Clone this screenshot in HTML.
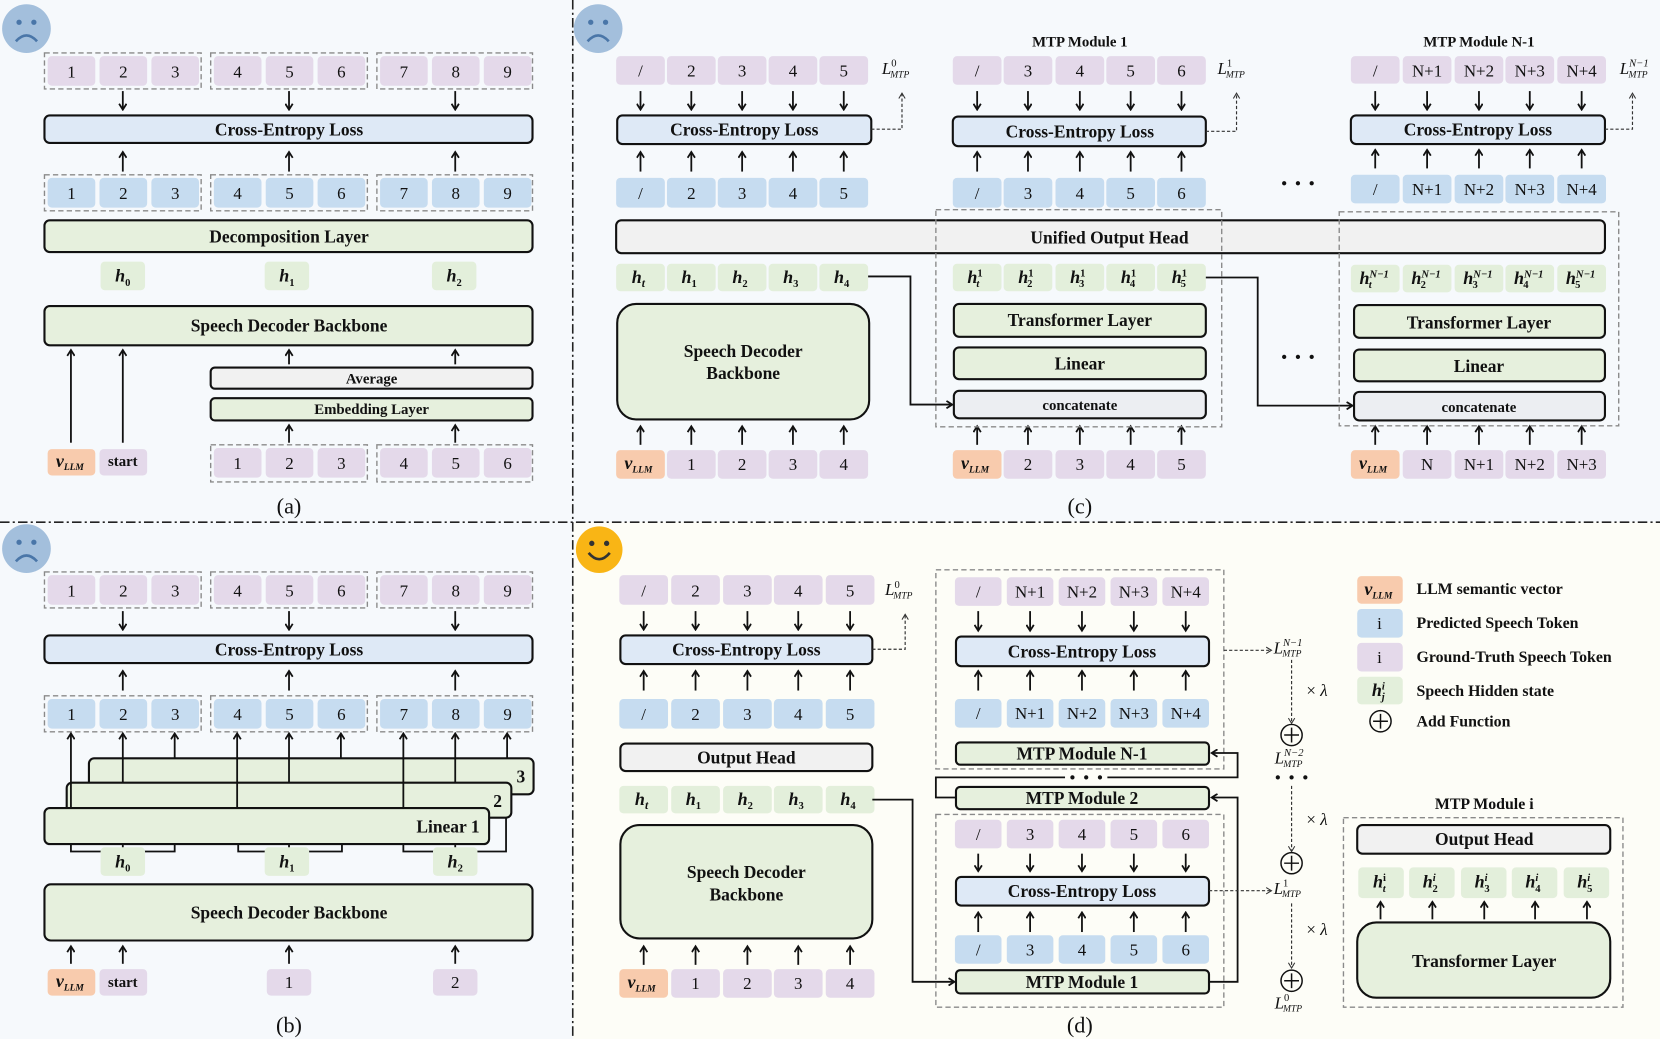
<!DOCTYPE html>
<html><head><meta charset="utf-8"><style>
html,body{margin:0;padding:0;background:#f6f9fc;}
svg{display:block}
text{font-family:"Liberation Serif",serif;font-size:16px;text-anchor:middle;fill:#111}
.b{font-weight:bold;font-size:16.5px}
.s{font-weight:bold;font-size:14px}
.lg{font-size:15px}
.st{text-anchor:start}
.en{text-anchor:end}
.h{font-weight:bold;font-style:italic;font-size:17px}
.p{fill:#e4d9ea}.u{fill:#c6dcf0}.g{fill:#e3efdb}.o{fill:#f8cbad}
.bx{stroke:#111;stroke-width:2}
.ce{fill:#dee9f6}.gr{fill:#f1f1f1}.cc{fill:#eceef2}.gb{fill:#e6f0dd}
.dg{fill:none;stroke:#8a8a8a;stroke-width:1.3;stroke-dasharray:5 3}
.a{stroke:#111;stroke-width:1.7;fill:none}
.d{stroke:#333;stroke-width:1.1;fill:none;stroke-dasharray:3 2}
</style></head><body>
<svg width="1660" height="1039" viewBox="0 0 1568 981" preserveAspectRatio="none" xmlns="http://www.w3.org/2000/svg">
<defs>
<marker id="ah" markerWidth="8" markerHeight="8" refX="6" refY="4" orient="auto" markerUnits="userSpaceOnUse"><path d="M1,0.5 L6.5,4 L1,7.5" fill="none" stroke="#111" stroke-width="1.7"/></marker>
<marker id="dh" markerWidth="8" markerHeight="8" refX="6" refY="4" orient="auto" markerUnits="userSpaceOnUse"><path d="M1,1 L6,4 L1,7" fill="none" stroke="#333" stroke-width="1"/></marker>
</defs>
<rect x="0" y="0" width="1568" height="981" fill="#f6f9fc"/>
<rect x="541" y="493" width="1027" height="488" fill="#fdfdf7"/>
<line x1="541" y1="0" x2="541" y2="981" stroke="#222" stroke-width="1.5" stroke-dasharray="9 3 2 3"/>
<line x1="0" y1="493" x2="1568" y2="493" stroke="#222" stroke-width="1.5" stroke-dasharray="9 3 2 3"/>

<!-- faces -->
<g><circle cx="25" cy="27" r="23" fill="#a3bfdc"/><circle cx="18" cy="21" r="2.5" fill="#4a76a8"/><circle cx="32" cy="21" r="2.5" fill="#4a76a8"/><path d="M15,39 Q25,28 35,39" stroke="#4a76a8" stroke-width="2.5" fill="none"/></g>
<g><circle cx="565" cy="27" r="23" fill="#a3bfdc"/><circle cx="558" cy="21" r="2.5" fill="#4a76a8"/><circle cx="572" cy="21" r="2.5" fill="#4a76a8"/><path d="M555,39 Q565,28 575,39" stroke="#4a76a8" stroke-width="2.5" fill="none"/></g>
<g><circle cx="25" cy="518" r="23" fill="#a3bfdc"/><circle cx="18" cy="512" r="2.5" fill="#4a76a8"/><circle cx="32" cy="512" r="2.5" fill="#4a76a8"/><path d="M15,530 Q25,519 35,530" stroke="#4a76a8" stroke-width="2.5" fill="none"/></g>
<g><circle cx="566" cy="519" r="22" fill="#f9b515"/><circle cx="559" cy="513" r="2.5" fill="#333"/><circle cx="573" cy="513" r="2.5" fill="#333"/><path d="M556,522 Q566,534 576,522" stroke="#333" stroke-width="2.5" fill="none"/></g>

<!-- ============ PANEL A ============ -->
<rect class="dg" x="42" y="50" width="148" height="34"/><rect class="dg" x="199" y="50" width="148" height="34"/><rect class="dg" x="356" y="50" width="147" height="34"/>
<g>
<rect class="p" x="45" y="53" width="45" height="28" rx="4"/><text x="67.5" y="73">1</text>
<rect class="p" x="94" y="53" width="45" height="28" rx="4"/><text x="116.5" y="73">2</text>
<rect class="p" x="143" y="53" width="45" height="28" rx="4"/><text x="165.5" y="73">3</text>
<rect class="p" x="202" y="53" width="45" height="28" rx="4"/><text x="224.5" y="73">4</text>
<rect class="p" x="251" y="53" width="45" height="28" rx="4"/><text x="273.5" y="73">5</text>
<rect class="p" x="300" y="53" width="45" height="28" rx="4"/><text x="322.5" y="73">6</text>
<rect class="p" x="359" y="53" width="45" height="28" rx="4"/><text x="381.5" y="73">7</text>
<rect class="p" x="408" y="53" width="45" height="28" rx="4"/><text x="430.5" y="73">8</text>
<rect class="p" x="457" y="53" width="45" height="28" rx="4"/><text x="479.5" y="73">9</text>
</g>
<line class="a" x1="116" y1="86" x2="116" y2="103" marker-end="url(#ah)"/><line class="a" x1="273" y1="86" x2="273" y2="103" marker-end="url(#ah)"/><line class="a" x1="430" y1="86" x2="430" y2="103" marker-end="url(#ah)"/>
<rect class="bx ce" x="42" y="109" width="461" height="26" rx="5"/><text class="b" x="273" y="128">Cross-Entropy Loss</text>
<line class="a" x1="116" y1="162" x2="116" y2="144" marker-end="url(#ah)"/><line class="a" x1="273" y1="162" x2="273" y2="144" marker-end="url(#ah)"/><line class="a" x1="430" y1="162" x2="430" y2="144" marker-end="url(#ah)"/>
<rect class="dg" x="42" y="165" width="148" height="34"/><rect class="dg" x="199" y="165" width="148" height="34"/><rect class="dg" x="356" y="165" width="147" height="34"/>
<g>
<rect class="u" x="45" y="168" width="45" height="28" rx="4"/><text x="67.5" y="188">1</text>
<rect class="u" x="94" y="168" width="45" height="28" rx="4"/><text x="116.5" y="188">2</text>
<rect class="u" x="143" y="168" width="45" height="28" rx="4"/><text x="165.5" y="188">3</text>
<rect class="u" x="202" y="168" width="45" height="28" rx="4"/><text x="224.5" y="188">4</text>
<rect class="u" x="251" y="168" width="45" height="28" rx="4"/><text x="273.5" y="188">5</text>
<rect class="u" x="300" y="168" width="45" height="28" rx="4"/><text x="322.5" y="188">6</text>
<rect class="u" x="359" y="168" width="45" height="28" rx="4"/><text x="381.5" y="188">7</text>
<rect class="u" x="408" y="168" width="45" height="28" rx="4"/><text x="430.5" y="188">8</text>
<rect class="u" x="457" y="168" width="45" height="28" rx="4"/><text x="479.5" y="188">9</text>
</g>
<rect class="bx gb" x="42" y="208" width="461" height="30" rx="5"/><text class="b" x="273" y="229">Decomposition Layer</text>
<rect class="g" x="95" y="247" width="42" height="27" rx="4"/><text class="h" x="116" y="266">h<tspan font-size="10" font-style="normal" dy="4">0</tspan></text>
<rect class="g" x="250" y="247" width="42" height="27" rx="4"/><text class="h" x="271" y="266">h<tspan font-size="10" font-style="normal" dy="4">1</tspan></text>
<rect class="g" x="408" y="247" width="42" height="27" rx="4"/><text class="h" x="429" y="266">h<tspan font-size="10" font-style="normal" dy="4">2</tspan></text>
<rect class="bx gb" x="42" y="289" width="461" height="37" rx="5"/><text class="b" x="273" y="313">Speech Decoder Backbone</text>
<line class="a" x1="67" y1="418" x2="67" y2="331" marker-end="url(#ah)"/><line class="a" x1="116" y1="418" x2="116" y2="331" marker-end="url(#ah)"/>
<line class="a" x1="273" y1="344" x2="273" y2="331" marker-end="url(#ah)"/><line class="a" x1="430" y1="344" x2="430" y2="331" marker-end="url(#ah)"/>
<line class="a" x1="273" y1="418" x2="273" y2="402" marker-end="url(#ah)"/><line class="a" x1="430" y1="418" x2="430" y2="402" marker-end="url(#ah)"/>
<rect class="bx gr" x="199" y="347" width="304" height="20" rx="4"/><text class="s" x="351" y="362">Average</text>
<rect class="bx gb" x="199" y="376" width="304" height="21" rx="4"/><text class="s" x="351" y="391">Embedding Layer</text>
<rect class="o" x="45" y="424" width="45" height="25" rx="4"/><text class="h" x="66" y="441">v<tspan font-size="9" dy="3">LLM</tspan></text>
<rect class="p" x="94" y="424" width="45" height="25" rx="4"/><text class="s" x="116" y="440">start</text>
<rect class="dg" x="199" y="420" width="148" height="35"/><rect class="dg" x="356" y="420" width="147" height="35"/>
<g>
<rect class="p" x="202" y="423" width="45" height="28" rx="4"/><text x="224.5" y="443">1</text>
<rect class="p" x="251" y="423" width="45" height="28" rx="4"/><text x="273.5" y="443">2</text>
<rect class="p" x="300" y="423" width="45" height="28" rx="4"/><text x="322.5" y="443">3</text>
<rect class="p" x="359" y="423" width="45" height="28" rx="4"/><text x="381.5" y="443">4</text>
<rect class="p" x="408" y="423" width="45" height="28" rx="4"/><text x="430.5" y="443">5</text>
<rect class="p" x="457" y="423" width="45" height="28" rx="4"/><text x="479.5" y="443">6</text>
</g>
<text x="273" y="485" style="font-size:21px">(a)</text>

<!-- ============ PANEL B ============ -->
<rect class="dg" x="42" y="540" width="148" height="34"/><rect class="dg" x="199" y="540" width="148" height="34"/><rect class="dg" x="356" y="540" width="147" height="34"/>
<g>
<rect class="p" x="45" y="543" width="45" height="28" rx="4"/><text x="67.5" y="563">1</text>
<rect class="p" x="94" y="543" width="45" height="28" rx="4"/><text x="116.5" y="563">2</text>
<rect class="p" x="143" y="543" width="45" height="28" rx="4"/><text x="165.5" y="563">3</text>
<rect class="p" x="202" y="543" width="45" height="28" rx="4"/><text x="224.5" y="563">4</text>
<rect class="p" x="251" y="543" width="45" height="28" rx="4"/><text x="273.5" y="563">5</text>
<rect class="p" x="300" y="543" width="45" height="28" rx="4"/><text x="322.5" y="563">6</text>
<rect class="p" x="359" y="543" width="45" height="28" rx="4"/><text x="381.5" y="563">7</text>
<rect class="p" x="408" y="543" width="45" height="28" rx="4"/><text x="430.5" y="563">8</text>
<rect class="p" x="457" y="543" width="45" height="28" rx="4"/><text x="479.5" y="563">9</text>
</g>
<line class="a" x1="116" y1="577" x2="116" y2="594" marker-end="url(#ah)"/><line class="a" x1="273" y1="577" x2="273" y2="594" marker-end="url(#ah)"/><line class="a" x1="430" y1="577" x2="430" y2="594" marker-end="url(#ah)"/>
<rect class="bx ce" x="42" y="600" width="461" height="26" rx="5"/><text class="b" x="273" y="619">Cross-Entropy Loss</text>
<line class="a" x1="116" y1="652" x2="116" y2="634" marker-end="url(#ah)"/><line class="a" x1="273" y1="652" x2="273" y2="634" marker-end="url(#ah)"/><line class="a" x1="430" y1="652" x2="430" y2="634" marker-end="url(#ah)"/>
<rect class="dg" x="42" y="657" width="148" height="34"/><rect class="dg" x="199" y="657" width="148" height="34"/><rect class="dg" x="356" y="657" width="147" height="34"/>
<g>
<rect class="u" x="45" y="660" width="45" height="28" rx="4"/><text x="67.5" y="680">1</text>
<rect class="u" x="94" y="660" width="45" height="28" rx="4"/><text x="116.5" y="680">2</text>
<rect class="u" x="143" y="660" width="45" height="28" rx="4"/><text x="165.5" y="680">3</text>
<rect class="u" x="202" y="660" width="45" height="28" rx="4"/><text x="224.5" y="680">4</text>
<rect class="u" x="251" y="660" width="45" height="28" rx="4"/><text x="273.5" y="680">5</text>
<rect class="u" x="300" y="660" width="45" height="28" rx="4"/><text x="322.5" y="680">6</text>
<rect class="u" x="359" y="660" width="45" height="28" rx="4"/><text x="381.5" y="680">7</text>
<rect class="u" x="408" y="660" width="45" height="28" rx="4"/><text x="430.5" y="680">8</text>
<rect class="u" x="457" y="660" width="45" height="28" rx="4"/><text x="479.5" y="680">9</text>
</g>
<polyline class="a" points="67,760 67,804 165,804 165,740"/><line class="a" x1="116" y1="810" x2="116" y2="760"/>
<polyline class="a" points="225,760 225,804 323,804 323,740"/><line class="a" x1="273" y1="810" x2="273" y2="760"/>
<polyline class="a" points="381,760 381,804 478,804 478,740"/><line class="a" x1="430" y1="810" x2="430" y2="760"/>
<rect class="bx gb" x="84" y="716" width="420" height="34" rx="5"/>
<rect class="bx gb" x="63" y="739" width="420" height="33" rx="5"/>
<rect class="bx gb" x="42" y="763" width="420" height="34" rx="5"/>
<text class="b" x="492" y="739">3</text><text class="b" x="470" y="762">2</text><text class="b en" x="453" y="786">Linear 1</text>
<line class="a" x1="67" y1="763" x2="67" y2="693" marker-end="url(#ah)"/><line class="a" x1="116" y1="739" x2="116" y2="693" marker-end="url(#ah)"/><line class="a" x1="165" y1="716" x2="165" y2="693" marker-end="url(#ah)"/>
<line class="a" x1="224" y1="763" x2="224" y2="693" marker-end="url(#ah)"/><line class="a" x1="273" y1="739" x2="273" y2="693" marker-end="url(#ah)"/><line class="a" x1="322" y1="716" x2="322" y2="693" marker-end="url(#ah)"/>
<line class="a" x1="381" y1="763" x2="381" y2="693" marker-end="url(#ah)"/><line class="a" x1="430" y1="739" x2="430" y2="693" marker-end="url(#ah)"/><line class="a" x1="479" y1="716" x2="479" y2="693" marker-end="url(#ah)"/>
<rect class="g" x="95" y="800" width="42" height="27" rx="4"/><text class="h" x="116" y="819">h<tspan font-size="10" font-style="normal" dy="4">0</tspan></text>
<rect class="g" x="250" y="800" width="42" height="27" rx="4"/><text class="h" x="271" y="819">h<tspan font-size="10" font-style="normal" dy="4">1</tspan></text>
<rect class="g" x="409" y="800" width="42" height="27" rx="4"/><text class="h" x="430" y="819">h<tspan font-size="10" font-style="normal" dy="4">2</tspan></text>
<rect class="bx gb" x="42" y="835" width="461" height="53" rx="6"/><text class="b" x="273" y="867">Speech Decoder Backbone</text>
<line class="a" x1="67" y1="910" x2="67" y2="894" marker-end="url(#ah)"/><line class="a" x1="116" y1="910" x2="116" y2="894" marker-end="url(#ah)"/><line class="a" x1="273" y1="910" x2="273" y2="894" marker-end="url(#ah)"/><line class="a" x1="430" y1="910" x2="430" y2="894" marker-end="url(#ah)"/>
<rect class="o" x="45" y="915" width="45" height="25" rx="4"/><text class="h" x="66" y="932">v<tspan font-size="9" dy="3">LLM</tspan></text>
<rect class="p" x="94" y="915" width="45" height="25" rx="4"/><text class="s" x="116" y="932">start</text>
<rect class="p" x="252" y="915" width="42" height="25" rx="4"/><text x="273" y="933">1</text>
<rect class="p" x="409" y="915" width="42" height="25" rx="4"/><text x="430" y="933">2</text>
<text x="273" y="975" style="font-size:21px">(b)</text>

<!-- ============ PANEL C ============ -->
<g>
<rect class="p" x="582" y="53" width="46" height="27" rx="4"/><text x="605" y="72">/</text>
<rect class="p" x="630" y="53" width="46" height="27" rx="4"/><text x="653" y="72">2</text>
<rect class="p" x="678" y="53" width="46" height="27" rx="4"/><text x="701" y="72">3</text>
<rect class="p" x="726" y="53" width="46" height="27" rx="4"/><text x="749" y="72">4</text>
<rect class="p" x="774" y="53" width="46" height="27" rx="4"/><text x="797" y="72">5</text>
</g>
<text class="st" x="833" y="70" font-style="italic">L<tspan font-size="10" font-style="normal" dy="-7">0</tspan><tspan font-size="9" dx="-6" dy="10">MTP</tspan></text>
<g>
<line class="a" x1="605" y1="86" x2="605" y2="103" marker-end="url(#ah)"/><line class="a" x1="653" y1="86" x2="653" y2="103" marker-end="url(#ah)"/><line class="a" x1="701" y1="86" x2="701" y2="103" marker-end="url(#ah)"/><line class="a" x1="749" y1="86" x2="749" y2="103" marker-end="url(#ah)"/><line class="a" x1="797" y1="86" x2="797" y2="103" marker-end="url(#ah)"/>
</g>
<rect class="bx ce" x="583" y="109" width="240" height="27" rx="5"/><text class="b" x="703" y="128">Cross-Entropy Loss</text>
<polyline class="d" points="823,122 852,122 852,88" marker-end="url(#dh)"/>
<g>
<line class="a" x1="605" y1="162" x2="605" y2="144" marker-end="url(#ah)"/><line class="a" x1="653" y1="162" x2="653" y2="144" marker-end="url(#ah)"/><line class="a" x1="701" y1="162" x2="701" y2="144" marker-end="url(#ah)"/><line class="a" x1="749" y1="162" x2="749" y2="144" marker-end="url(#ah)"/><line class="a" x1="797" y1="162" x2="797" y2="144" marker-end="url(#ah)"/>
</g>
<g>
<rect class="u" x="582" y="168" width="46" height="28" rx="4"/><text x="605" y="188">/</text>
<rect class="u" x="630" y="168" width="46" height="28" rx="4"/><text x="653" y="188">2</text>
<rect class="u" x="678" y="168" width="46" height="28" rx="4"/><text x="701" y="188">3</text>
<rect class="u" x="726" y="168" width="46" height="28" rx="4"/><text x="749" y="188">4</text>
<rect class="u" x="774" y="168" width="46" height="28" rx="4"/><text x="797" y="188">5</text>
</g>
<rect class="bx gr" x="582" y="208" width="934" height="31" rx="5"/><text class="b" x="1048" y="230">Unified Output Head</text>
<g>
<rect class="g" x="582" y="249" width="46" height="26" rx="4"/><text class="h" x="603" y="267">h<tspan font-size="11" dy="4">t</tspan></text>
<rect class="g" x="630" y="249" width="46" height="26" rx="4"/><text class="h" x="651" y="267">h<tspan font-size="10" font-style="normal" dy="4">1</tspan></text>
<rect class="g" x="678" y="249" width="46" height="26" rx="4"/><text class="h" x="699" y="267">h<tspan font-size="10" font-style="normal" dy="4">2</tspan></text>
<rect class="g" x="726" y="249" width="46" height="26" rx="4"/><text class="h" x="747" y="267">h<tspan font-size="10" font-style="normal" dy="4">3</tspan></text>
<rect class="g" x="774" y="249" width="46" height="26" rx="4"/><text class="h" x="795" y="267">h<tspan font-size="10" font-style="normal" dy="4">4</tspan></text>
</g>
<rect class="bx gb" x="583" y="287" width="238" height="109" rx="18"/><text class="b" x="702" y="337">Speech Decoder</text><text class="b" x="702" y="358">Backbone</text>
<polyline class="a" points="820,261 860,261 860,382 899,382" marker-end="url(#ah)"/>
<g>
<line class="a" x1="605" y1="420" x2="605" y2="403" marker-end="url(#ah)"/><line class="a" x1="653" y1="420" x2="653" y2="403" marker-end="url(#ah)"/><line class="a" x1="701" y1="420" x2="701" y2="403" marker-end="url(#ah)"/><line class="a" x1="749" y1="420" x2="749" y2="403" marker-end="url(#ah)"/><line class="a" x1="797" y1="420" x2="797" y2="403" marker-end="url(#ah)"/>
</g>
<g>
<rect class="o" x="582" y="425" width="46" height="27" rx="4"/><text class="h" x="603" y="443">v<tspan font-size="9" dy="3">LLM</tspan></text>
<rect class="p" x="630" y="425" width="46" height="27" rx="4"/><text x="653" y="444">1</text>
<rect class="p" x="678" y="425" width="46" height="27" rx="4"/><text x="701" y="444">2</text>
<rect class="p" x="726" y="425" width="46" height="27" rx="4"/><text x="749" y="444">3</text>
<rect class="p" x="774" y="425" width="46" height="27" rx="4"/><text x="797" y="444">4</text>
</g>

<text class="s" x="1020" y="44">MTP Module 1</text>
<g>
<rect class="p" x="900" y="53" width="46" height="27" rx="4"/><text x="923" y="72">/</text>
<rect class="p" x="948" y="53" width="46" height="27" rx="4"/><text x="971" y="72">3</text>
<rect class="p" x="997" y="53" width="46" height="27" rx="4"/><text x="1020" y="72">4</text>
<rect class="p" x="1045" y="53" width="46" height="27" rx="4"/><text x="1068" y="72">5</text>
<rect class="p" x="1093" y="53" width="46" height="27" rx="4"/><text x="1116" y="72">6</text>
</g>
<text class="st" x="1150" y="70" font-style="italic">L<tspan font-size="10" font-style="normal" dy="-7">1</tspan><tspan font-size="9" dx="-6" dy="10">MTP</tspan></text>
<g>
<line class="a" x1="923" y1="86" x2="923" y2="103" marker-end="url(#ah)"/><line class="a" x1="971" y1="86" x2="971" y2="103" marker-end="url(#ah)"/><line class="a" x1="1020" y1="86" x2="1020" y2="103" marker-end="url(#ah)"/><line class="a" x1="1068" y1="86" x2="1068" y2="103" marker-end="url(#ah)"/><line class="a" x1="1116" y1="86" x2="1116" y2="103" marker-end="url(#ah)"/>
</g>
<rect class="bx ce" x="900" y="110" width="239" height="28" rx="5"/><text class="b" x="1020" y="130">Cross-Entropy Loss</text>
<polyline class="d" points="1139,124 1168,124 1168,88" marker-end="url(#dh)"/>
<g>
<line class="a" x1="923" y1="162" x2="923" y2="144" marker-end="url(#ah)"/><line class="a" x1="971" y1="162" x2="971" y2="144" marker-end="url(#ah)"/><line class="a" x1="1020" y1="162" x2="1020" y2="144" marker-end="url(#ah)"/><line class="a" x1="1068" y1="162" x2="1068" y2="144" marker-end="url(#ah)"/><line class="a" x1="1116" y1="162" x2="1116" y2="144" marker-end="url(#ah)"/>
</g>
<g>
<rect class="u" x="900" y="168" width="46" height="28" rx="4"/><text x="923" y="188">/</text>
<rect class="u" x="948" y="168" width="46" height="28" rx="4"/><text x="971" y="188">3</text>
<rect class="u" x="997" y="168" width="46" height="28" rx="4"/><text x="1020" y="188">4</text>
<rect class="u" x="1045" y="168" width="46" height="28" rx="4"/><text x="1068" y="188">5</text>
<rect class="u" x="1093" y="168" width="46" height="28" rx="4"/><text x="1116" y="188">6</text>
</g>
<g>
<rect class="g" x="900" y="249" width="46" height="26" rx="4"/><text class="h" x="921" y="267">h<tspan font-size="10" font-style="normal" dy="-6">1</tspan><tspan font-size="10" dx="-6" dy="10">t</tspan></text>
<rect class="g" x="948" y="249" width="46" height="26" rx="4"/><text class="h" x="969" y="267">h<tspan font-size="10" font-style="normal" dy="-6">1</tspan><tspan font-size="10" font-style="normal" dx="-6" dy="10">2</tspan></text>
<rect class="g" x="997" y="249" width="46" height="26" rx="4"/><text class="h" x="1018" y="267">h<tspan font-size="10" font-style="normal" dy="-6">1</tspan><tspan font-size="10" font-style="normal" dx="-6" dy="10">3</tspan></text>
<rect class="g" x="1045" y="249" width="46" height="26" rx="4"/><text class="h" x="1066" y="267">h<tspan font-size="10" font-style="normal" dy="-6">1</tspan><tspan font-size="10" font-style="normal" dx="-6" dy="10">4</tspan></text>
<rect class="g" x="1093" y="249" width="46" height="26" rx="4"/><text class="h" x="1114" y="267">h<tspan font-size="10" font-style="normal" dy="-6">1</tspan><tspan font-size="10" font-style="normal" dx="-6" dy="10">5</tspan></text>
</g>
<rect class="bx gb" x="901" y="287" width="238" height="31" rx="5"/><text class="b" x="1020" y="308">Transformer Layer</text>
<rect class="bx gb" x="901" y="328" width="238" height="30" rx="5"/><text class="b" x="1020" y="349">Linear</text>
<rect class="bx cc" x="901" y="369" width="238" height="26" rx="5"/><text class="s" x="1020" y="387">concatenate</text>
<polyline class="a" points="1139,262 1188,262 1188,383 1277,383" marker-end="url(#ah)"/>
<g>
<line class="a" x1="923" y1="420" x2="923" y2="403" marker-end="url(#ah)"/><line class="a" x1="971" y1="420" x2="971" y2="403" marker-end="url(#ah)"/><line class="a" x1="1020" y1="420" x2="1020" y2="403" marker-end="url(#ah)"/><line class="a" x1="1068" y1="420" x2="1068" y2="403" marker-end="url(#ah)"/><line class="a" x1="1116" y1="420" x2="1116" y2="403" marker-end="url(#ah)"/>
</g>
<g>
<rect class="o" x="900" y="425" width="46" height="27" rx="4"/><text class="h" x="921" y="443">v<tspan font-size="9" dy="3">LLM</tspan></text>
<rect class="p" x="948" y="425" width="46" height="27" rx="4"/><text x="971" y="444">2</text>
<rect class="p" x="997" y="425" width="46" height="27" rx="4"/><text x="1020" y="444">3</text>
<rect class="p" x="1045" y="425" width="46" height="27" rx="4"/><text x="1068" y="444">4</text>
<rect class="p" x="1093" y="425" width="46" height="27" rx="4"/><text x="1116" y="444">5</text>
</g>
<rect class="dg" x="884" y="198" width="270" height="205"/>
<circle cx="1213" cy="173" r="2" fill="#111"/><circle cx="1226" cy="173" r="2" fill="#111"/><circle cx="1239" cy="173" r="2" fill="#111"/>
<circle cx="1213" cy="337" r="2" fill="#111"/><circle cx="1226" cy="337" r="2" fill="#111"/><circle cx="1239" cy="337" r="2" fill="#111"/>

<text class="s" x="1397" y="44">MTP Module N-1</text>
<g>
<rect class="p" x="1276" y="53" width="46" height="26" rx="4"/><text x="1299" y="72">/</text>
<rect class="p" x="1325" y="53" width="46" height="26" rx="4"/><text x="1348" y="72">N+1</text>
<rect class="p" x="1374" y="53" width="46" height="26" rx="4"/><text x="1397" y="72">N+2</text>
<rect class="p" x="1422" y="53" width="46" height="26" rx="4"/><text x="1445" y="72">N+3</text>
<rect class="p" x="1471" y="53" width="46" height="26" rx="4"/><text x="1494" y="72">N+4</text>
</g>
<text class="st" x="1530" y="70" font-style="italic">L<tspan font-size="10" dy="-7">N−1</tspan><tspan font-size="9" dx="-19" dy="10">MTP</tspan></text>
<g>
<line class="a" x1="1299" y1="86" x2="1299" y2="103" marker-end="url(#ah)"/><line class="a" x1="1348" y1="86" x2="1348" y2="103" marker-end="url(#ah)"/><line class="a" x1="1397" y1="86" x2="1397" y2="103" marker-end="url(#ah)"/><line class="a" x1="1445" y1="86" x2="1445" y2="103" marker-end="url(#ah)"/><line class="a" x1="1494" y1="86" x2="1494" y2="103" marker-end="url(#ah)"/>
</g>
<rect class="bx ce" x="1276" y="109" width="240" height="27" rx="5"/><text class="b" x="1396" y="128">Cross-Entropy Loss</text>
<polyline class="d" points="1516,122 1542,122 1542,88" marker-end="url(#dh)"/>
<g>
<line class="a" x1="1299" y1="159" x2="1299" y2="142" marker-end="url(#ah)"/><line class="a" x1="1348" y1="159" x2="1348" y2="142" marker-end="url(#ah)"/><line class="a" x1="1397" y1="159" x2="1397" y2="142" marker-end="url(#ah)"/><line class="a" x1="1445" y1="159" x2="1445" y2="142" marker-end="url(#ah)"/><line class="a" x1="1494" y1="159" x2="1494" y2="142" marker-end="url(#ah)"/>
</g>
<g>
<rect class="u" x="1276" y="165" width="46" height="27" rx="4"/><text x="1299" y="184">/</text>
<rect class="u" x="1325" y="165" width="46" height="27" rx="4"/><text x="1348" y="184">N+1</text>
<rect class="u" x="1374" y="165" width="46" height="27" rx="4"/><text x="1397" y="184">N+2</text>
<rect class="u" x="1422" y="165" width="46" height="27" rx="4"/><text x="1445" y="184">N+3</text>
<rect class="u" x="1471" y="165" width="46" height="27" rx="4"/><text x="1494" y="184">N+4</text>
</g>
<g>
<rect class="g" x="1276" y="250" width="46" height="26" rx="4"/><text class="h" x="1298" y="268">h<tspan font-size="10" font-style="italic" dy="-6">N−1</tspan><tspan font-size="10" dx="-19" dy="10">t</tspan></text>
<rect class="g" x="1325" y="250" width="46" height="26" rx="4"/><text class="h" x="1347" y="268">h<tspan font-size="10" dy="-6">N−1</tspan><tspan font-size="10" font-style="normal" dx="-19" dy="10">2</tspan></text>
<rect class="g" x="1374" y="250" width="46" height="26" rx="4"/><text class="h" x="1396" y="268">h<tspan font-size="10" dy="-6">N−1</tspan><tspan font-size="10" font-style="normal" dx="-19" dy="10">3</tspan></text>
<rect class="g" x="1422" y="250" width="46" height="26" rx="4"/><text class="h" x="1444" y="268">h<tspan font-size="10" dy="-6">N−1</tspan><tspan font-size="10" font-style="normal" dx="-19" dy="10">4</tspan></text>
<rect class="g" x="1471" y="250" width="46" height="26" rx="4"/><text class="h" x="1493" y="268">h<tspan font-size="10" dy="-6">N−1</tspan><tspan font-size="10" font-style="normal" dx="-19" dy="10">5</tspan></text>
</g>
<rect class="bx gb" x="1279" y="288" width="237" height="31" rx="5"/><text class="b" x="1397" y="310">Transformer Layer</text>
<rect class="bx gb" x="1279" y="330" width="237" height="30" rx="5"/><text class="b" x="1397" y="351">Linear</text>
<rect class="bx cc" x="1279" y="370" width="237" height="27" rx="5"/><text class="s" x="1397" y="389">concatenate</text>
<g>
<line class="a" x1="1299" y1="420" x2="1299" y2="403" marker-end="url(#ah)"/><line class="a" x1="1348" y1="420" x2="1348" y2="403" marker-end="url(#ah)"/><line class="a" x1="1397" y1="420" x2="1397" y2="403" marker-end="url(#ah)"/><line class="a" x1="1445" y1="420" x2="1445" y2="403" marker-end="url(#ah)"/><line class="a" x1="1494" y1="420" x2="1494" y2="403" marker-end="url(#ah)"/>
</g>
<g>
<rect class="o" x="1276" y="425" width="46" height="27" rx="4"/><text class="h" x="1297" y="443">v<tspan font-size="9" dy="3">LLM</tspan></text>
<rect class="p" x="1325" y="425" width="46" height="27" rx="4"/><text x="1348" y="444">N</text>
<rect class="p" x="1374" y="425" width="46" height="27" rx="4"/><text x="1397" y="444">N+1</text>
<rect class="p" x="1422" y="425" width="46" height="27" rx="4"/><text x="1445" y="444">N+2</text>
<rect class="p" x="1471" y="425" width="46" height="27" rx="4"/><text x="1494" y="444">N+3</text>
</g>
<rect class="dg" x="1265" y="200" width="264" height="202"/>
<text x="1020" y="485" style="font-size:21px">(c)</text>

<!-- ============ PANEL D ============ -->
<g>
<rect class="p" x="585" y="543" width="46" height="28" rx="4"/><text x="608" y="563">/</text>
<rect class="p" x="634" y="543" width="46" height="28" rx="4"/><text x="657" y="563">2</text>
<rect class="p" x="683" y="543" width="46" height="28" rx="4"/><text x="706" y="563">3</text>
<rect class="p" x="731" y="543" width="46" height="28" rx="4"/><text x="754" y="563">4</text>
<rect class="p" x="780" y="543" width="46" height="28" rx="4"/><text x="803" y="563">5</text>
</g>
<text class="st" x="836" y="562" font-style="italic">L<tspan font-size="10" font-style="normal" dy="-7">0</tspan><tspan font-size="9" dx="-6" dy="10">MTP</tspan></text>
<g>
<line class="a" x1="608" y1="577" x2="608" y2="594" marker-end="url(#ah)"/><line class="a" x1="657" y1="577" x2="657" y2="594" marker-end="url(#ah)"/><line class="a" x1="706" y1="577" x2="706" y2="594" marker-end="url(#ah)"/><line class="a" x1="754" y1="577" x2="754" y2="594" marker-end="url(#ah)"/><line class="a" x1="803" y1="577" x2="803" y2="594" marker-end="url(#ah)"/>
</g>
<rect class="bx ce" x="586" y="600" width="238" height="27" rx="5"/><text class="b" x="705" y="619">Cross-Entropy Loss</text>
<polyline class="d" points="824,613 855,613 855,580" marker-end="url(#dh)"/>
<g>
<line class="a" x1="608" y1="652" x2="608" y2="634" marker-end="url(#ah)"/><line class="a" x1="657" y1="652" x2="657" y2="634" marker-end="url(#ah)"/><line class="a" x1="706" y1="652" x2="706" y2="634" marker-end="url(#ah)"/><line class="a" x1="754" y1="652" x2="754" y2="634" marker-end="url(#ah)"/><line class="a" x1="803" y1="652" x2="803" y2="634" marker-end="url(#ah)"/>
</g>
<g>
<rect class="u" x="585" y="660" width="46" height="28" rx="4"/><text x="608" y="680">/</text>
<rect class="u" x="634" y="660" width="46" height="28" rx="4"/><text x="657" y="680">2</text>
<rect class="u" x="683" y="660" width="46" height="28" rx="4"/><text x="706" y="680">3</text>
<rect class="u" x="731" y="660" width="46" height="28" rx="4"/><text x="754" y="680">4</text>
<rect class="u" x="780" y="660" width="46" height="28" rx="4"/><text x="803" y="680">5</text>
</g>
<rect class="bx gr" x="586" y="702" width="238" height="26" rx="5"/><text class="b" x="705" y="721">Output Head</text>
<g>
<rect class="g" x="585" y="742" width="46" height="26" rx="4"/><text class="h" x="606" y="760">h<tspan font-size="11" dy="4">t</tspan></text>
<rect class="g" x="634" y="742" width="46" height="26" rx="4"/><text class="h" x="655" y="760">h<tspan font-size="10" font-style="normal" dy="4">1</tspan></text>
<rect class="g" x="683" y="742" width="46" height="26" rx="4"/><text class="h" x="704" y="760">h<tspan font-size="10" font-style="normal" dy="4">2</tspan></text>
<rect class="g" x="731" y="742" width="46" height="26" rx="4"/><text class="h" x="752" y="760">h<tspan font-size="10" font-style="normal" dy="4">3</tspan></text>
<rect class="g" x="780" y="742" width="46" height="26" rx="4"/><text class="h" x="801" y="760">h<tspan font-size="10" font-style="normal" dy="4">4</tspan></text>
</g>
<rect class="bx gb" x="586" y="779" width="238" height="107" rx="18"/><text class="b" x="705" y="829">Speech Decoder</text><text class="b" x="705" y="850">Backbone</text>
<polyline class="a" points="824,755 862,755 862,927 901,927" marker-end="url(#ah)"/>
<g>
<line class="a" x1="608" y1="911" x2="608" y2="894" marker-end="url(#ah)"/><line class="a" x1="657" y1="911" x2="657" y2="894" marker-end="url(#ah)"/><line class="a" x1="706" y1="911" x2="706" y2="894" marker-end="url(#ah)"/><line class="a" x1="754" y1="911" x2="754" y2="894" marker-end="url(#ah)"/><line class="a" x1="803" y1="911" x2="803" y2="894" marker-end="url(#ah)"/>
</g>
<g>
<rect class="o" x="585" y="915" width="46" height="27" rx="4"/><text class="h" x="606" y="933">v<tspan font-size="9" dy="3">LLM</tspan></text>
<rect class="p" x="634" y="915" width="46" height="27" rx="4"/><text x="657" y="934">1</text>
<rect class="p" x="683" y="915" width="46" height="27" rx="4"/><text x="706" y="934">2</text>
<rect class="p" x="731" y="915" width="46" height="27" rx="4"/><text x="754" y="934">3</text>
<rect class="p" x="780" y="915" width="46" height="27" rx="4"/><text x="803" y="934">4</text>
</g>

<rect class="dg" x="884" y="538" width="272" height="188"/>
<g>
<rect class="p" x="902" y="545" width="44" height="27" rx="4"/><text x="924" y="564">/</text>
<rect class="p" x="951" y="545" width="44" height="27" rx="4"/><text x="973" y="564">N+1</text>
<rect class="p" x="1000" y="545" width="44" height="27" rx="4"/><text x="1022" y="564">N+2</text>
<rect class="p" x="1049" y="545" width="44" height="27" rx="4"/><text x="1071" y="564">N+3</text>
<rect class="p" x="1098" y="545" width="44" height="27" rx="4"/><text x="1120" y="564">N+4</text>
</g>
<g>
<line class="a" x1="924" y1="577" x2="924" y2="595" marker-end="url(#ah)"/><line class="a" x1="973" y1="577" x2="973" y2="595" marker-end="url(#ah)"/><line class="a" x1="1022" y1="577" x2="1022" y2="595" marker-end="url(#ah)"/><line class="a" x1="1071" y1="577" x2="1071" y2="595" marker-end="url(#ah)"/><line class="a" x1="1120" y1="577" x2="1120" y2="595" marker-end="url(#ah)"/>
</g>
<rect class="bx ce" x="903" y="601" width="239" height="28" rx="5"/><text class="b" x="1022" y="621">Cross-Entropy Loss</text>
<g>
<line class="a" x1="924" y1="652" x2="924" y2="634" marker-end="url(#ah)"/><line class="a" x1="973" y1="652" x2="973" y2="634" marker-end="url(#ah)"/><line class="a" x1="1022" y1="652" x2="1022" y2="634" marker-end="url(#ah)"/><line class="a" x1="1071" y1="652" x2="1071" y2="634" marker-end="url(#ah)"/><line class="a" x1="1120" y1="652" x2="1120" y2="634" marker-end="url(#ah)"/>
</g>
<g>
<rect class="u" x="902" y="660" width="44" height="27" rx="4"/><text x="924" y="679">/</text>
<rect class="u" x="951" y="660" width="44" height="27" rx="4"/><text x="973" y="679">N+1</text>
<rect class="u" x="1000" y="660" width="44" height="27" rx="4"/><text x="1022" y="679">N+2</text>
<rect class="u" x="1049" y="660" width="44" height="27" rx="4"/><text x="1071" y="679">N+3</text>
<rect class="u" x="1098" y="660" width="44" height="27" rx="4"/><text x="1120" y="679">N+4</text>
</g>
<rect class="bx gb" x="903" y="701" width="239" height="21" rx="4"/><text class="b" x="1022" y="717">MTP Module N-1</text>
<rect class="bx gb" x="903" y="743" width="239" height="21" rx="4"/><text class="b" x="1022" y="759">MTP Module 2</text>
<polyline class="a" points="903,753 884,753 884,734 1006,734"/>
<circle cx="1013" cy="734" r="2" fill="#111"/><circle cx="1026" cy="734" r="2" fill="#111"/><circle cx="1039" cy="734" r="2" fill="#111"/>
<polyline class="a" points="1046,734 1169,734 1169,711 1145,711" marker-end="url(#ah)"/>

<rect class="dg" x="884" y="769" width="272" height="182"/>
<g>
<rect class="p" x="902" y="774" width="44" height="27" rx="4"/><text x="924" y="793">/</text>
<rect class="p" x="951" y="774" width="44" height="27" rx="4"/><text x="973" y="793">3</text>
<rect class="p" x="1000" y="774" width="44" height="27" rx="4"/><text x="1022" y="793">4</text>
<rect class="p" x="1049" y="774" width="44" height="27" rx="4"/><text x="1071" y="793">5</text>
<rect class="p" x="1098" y="774" width="44" height="27" rx="4"/><text x="1120" y="793">6</text>
</g>
<g>
<line class="a" x1="924" y1="806" x2="924" y2="822" marker-end="url(#ah)"/><line class="a" x1="973" y1="806" x2="973" y2="822" marker-end="url(#ah)"/><line class="a" x1="1022" y1="806" x2="1022" y2="822" marker-end="url(#ah)"/><line class="a" x1="1071" y1="806" x2="1071" y2="822" marker-end="url(#ah)"/><line class="a" x1="1120" y1="806" x2="1120" y2="822" marker-end="url(#ah)"/>
</g>
<rect class="bx ce" x="903" y="828" width="239" height="27" rx="5"/><text class="b" x="1022" y="847">Cross-Entropy Loss</text>
<g>
<line class="a" x1="924" y1="880" x2="924" y2="862" marker-end="url(#ah)"/><line class="a" x1="973" y1="880" x2="973" y2="862" marker-end="url(#ah)"/><line class="a" x1="1022" y1="880" x2="1022" y2="862" marker-end="url(#ah)"/><line class="a" x1="1071" y1="880" x2="1071" y2="862" marker-end="url(#ah)"/><line class="a" x1="1120" y1="880" x2="1120" y2="862" marker-end="url(#ah)"/>
</g>
<g>
<rect class="u" x="902" y="883" width="44" height="27" rx="4"/><text x="924" y="902">/</text>
<rect class="u" x="951" y="883" width="44" height="27" rx="4"/><text x="973" y="902">3</text>
<rect class="u" x="1000" y="883" width="44" height="27" rx="4"/><text x="1022" y="902">4</text>
<rect class="u" x="1049" y="883" width="44" height="27" rx="4"/><text x="1071" y="902">5</text>
<rect class="u" x="1098" y="883" width="44" height="27" rx="4"/><text x="1120" y="902">6</text>
</g>
<rect class="bx gb" x="903" y="916" width="239" height="22" rx="4"/><text class="b" x="1022" y="933">MTP Module 1</text>
<polyline class="a" points="1142,927 1169,927 1169,753 1145,753" marker-end="url(#ah)"/>
<text x="1020" y="975" style="font-size:21px">(d)</text>

<line class="d" x1="1156" y1="614" x2="1201" y2="614" marker-end="url(#dh)"/>
<text class="st" x="1203" y="617" font-style="italic">L<tspan font-size="10" dy="-7">N−1</tspan><tspan font-size="9" dx="-19" dy="10">MTP</tspan></text>
<line class="d" x1="1142" y1="841" x2="1201" y2="841" marker-end="url(#dh)"/>
<text class="st" x="1203" y="844" font-style="italic">L<tspan font-size="10" font-style="normal" dy="-7">1</tspan><tspan font-size="9" dx="-6" dy="10">MTP</tspan></text>
<line class="d" x1="1220" y1="623" x2="1220" y2="683" marker-end="url(#dh)"/>
<circle cx="1220" cy="694" r="10" fill="none" stroke="#111" stroke-width="1.4"/><path d="M1213,694 H1227 M1220,687 V701" stroke="#111" stroke-width="1.4"/>
<text class="st" x="1204" y="721" font-style="italic">L<tspan font-size="10" dy="-7">N−2</tspan><tspan font-size="9" dx="-19" dy="10">MTP</tspan></text>
<circle cx="1207" cy="734" r="2" fill="#111"/><circle cx="1220" cy="734" r="2" fill="#111"/><circle cx="1233" cy="734" r="2" fill="#111"/>
<line class="d" x1="1220" y1="742" x2="1220" y2="804" marker-end="url(#dh)"/>
<circle cx="1220" cy="815" r="10" fill="none" stroke="#111" stroke-width="1.4"/><path d="M1213,815 H1227 M1220,808 V822" stroke="#111" stroke-width="1.4"/>
<line class="d" x1="1220" y1="853" x2="1220" y2="914" marker-end="url(#dh)"/>
<circle cx="1220" cy="926" r="10" fill="none" stroke="#111" stroke-width="1.4"/><path d="M1213,926 H1227 M1220,919 V933" stroke="#111" stroke-width="1.4"/>
<text class="st" x="1204" y="952" font-style="italic">L<tspan font-size="10" font-style="normal" dy="-7">0</tspan><tspan font-size="9" dx="-6" dy="10">MTP</tspan></text>
<text class="st" x="1234" y="657">× <tspan font-style="italic">λ</tspan></text>
<text class="st" x="1234" y="779">× <tspan font-style="italic">λ</tspan></text>
<text class="st" x="1234" y="883">× <tspan font-style="italic">λ</tspan></text>

<rect class="o" x="1282" y="544" width="43" height="26" rx="4"/><text class="h" x="1302" y="562">v<tspan font-size="9" dy="3">LLM</tspan></text>
<rect class="u" x="1282" y="575" width="43" height="27" rx="4"/><text x="1303" y="594">i</text>
<rect class="p" x="1282" y="607" width="43" height="27" rx="4"/><text x="1303" y="626">i</text>
<rect class="g" x="1282" y="639" width="43" height="26" rx="4"/><text class="h" x="1302" y="657">h<tspan font-size="10" dy="-6">i</tspan><tspan font-size="10" dx="-3" dy="10">j</tspan></text>
<circle cx="1304" cy="681" r="10" fill="none" stroke="#111" stroke-width="1.4"/><path d="M1297,681 H1311 M1304,674 V688" stroke="#111" stroke-width="1.4"/>
<text class="s lg st" x="1338" y="561">LLM semantic vector</text>
<text class="s lg st" x="1338" y="593">Predicted Speech Token</text>
<text class="s lg st" x="1338" y="625">Ground-Truth Speech Token</text>
<text class="s lg st" x="1338" y="657">Speech Hidden state</text>
<text class="s lg st" x="1338" y="686">Add Function</text>

<text class="s lg" x="1402" y="764">MTP Module i</text>
<rect class="dg" x="1269" y="772" width="264" height="179"/>
<rect class="bx gr" x="1282" y="779" width="239" height="27" rx="5"/><text class="b" x="1402" y="798">Output Head</text>
<g>
<rect class="g" x="1283" y="819" width="43" height="29" rx="4"/><text class="h" x="1303" y="838">h<tspan font-size="10" font-style="normal" dy="-6">i</tspan><tspan font-size="10" dx="-3" dy="10">t</tspan></text>
<rect class="g" x="1331" y="819" width="43" height="29" rx="4"/><text class="h" x="1351" y="838">h<tspan font-size="10" dy="-6">i</tspan><tspan font-size="10" font-style="normal" dx="-3" dy="10">2</tspan></text>
<rect class="g" x="1380" y="819" width="43" height="29" rx="4"/><text class="h" x="1400" y="838">h<tspan font-size="10" dy="-6">i</tspan><tspan font-size="10" font-style="normal" dx="-3" dy="10">3</tspan></text>
<rect class="g" x="1428" y="819" width="43" height="29" rx="4"/><text class="h" x="1448" y="838">h<tspan font-size="10" dy="-6">i</tspan><tspan font-size="10" font-style="normal" dx="-3" dy="10">4</tspan></text>
<rect class="g" x="1477" y="819" width="43" height="29" rx="4"/><text class="h" x="1497" y="838">h<tspan font-size="10" dy="-6">i</tspan><tspan font-size="10" font-style="normal" dx="-3" dy="10">5</tspan></text>
</g>
<g>
<line class="a" x1="1304" y1="868" x2="1304" y2="852" marker-end="url(#ah)"/><line class="a" x1="1353" y1="868" x2="1353" y2="852" marker-end="url(#ah)"/><line class="a" x1="1402" y1="868" x2="1402" y2="852" marker-end="url(#ah)"/><line class="a" x1="1450" y1="868" x2="1450" y2="852" marker-end="url(#ah)"/><line class="a" x1="1499" y1="868" x2="1499" y2="852" marker-end="url(#ah)"/>
</g>
<rect class="bx gb" x="1282" y="871" width="239" height="71" rx="18"/><text class="b" x="1402" y="913">Transformer Layer</text>
</svg>
</body></html>
